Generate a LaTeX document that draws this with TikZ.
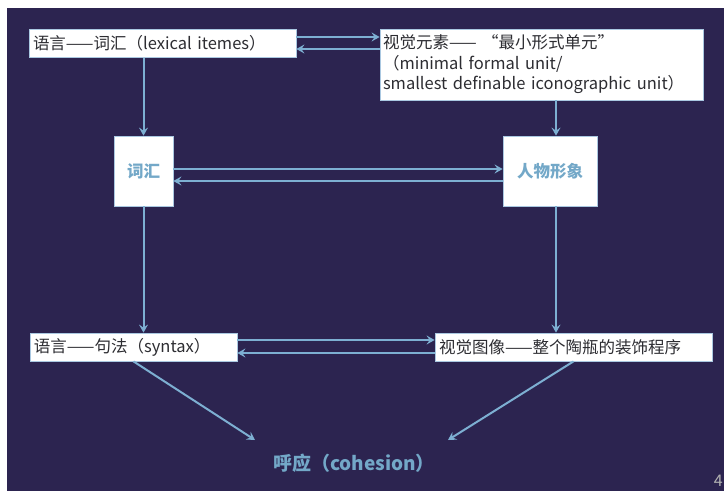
\documentclass[tikz,border=0pt]{standalone}
\usepackage{fontspec}
\setmainfont{Noto Sans CJK SC}
\usetikzlibrary{arrows.meta}
\definecolor{bg}{RGB}{44,36,80}
\definecolor{arrc}{RGB}{125,175,210}
\definecolor{txt}{RGB}{45,45,50}
\definecolor{lbl}{RGB}{115,168,200}
\definecolor{edge}{RGB}{170,200,225}
\begin{document}
\begin{tikzpicture}[x=1pt,y=-1pt,
  box/.style={draw=edge, line width=0.8pt, fill=white, inner sep=0pt,
    font=\fontsize{16.5}{20.5}\selectfont, text=txt},
  midbox/.style={draw=edge, line width=0.8pt, fill=white, inner sep=0pt,
    font=\fontsize{16.5}{16.5}\selectfont\bfseries, text=lbl},
  arr/.style={draw=arrc, line width=2pt, -{Stealth[length=8pt,width=9pt,inset=3pt]}}]
\fill[white] (0,0) rectangle (724,491);
\fill[bg] (7,8) rectangle (724,491);
\useasboundingbox (0,0) rectangle (724,491);

\node[box, minimum width=267pt, minimum height=28pt, text width=259pt, align=left] (A) at (162.5,43.5) {语言——词汇（lexical itemes）};
\node[box, minimum width=323pt, minimum height=71pt, text width=317pt, align=left] (B) at (541.5,64.5) {视觉元素—— “最小形式单元”\\（minimal formal unit/\\smallest definable iconographic unit）};
\node[midbox, minimum width=59pt, minimum height=70pt] (V) at (143.5,171) {词汇};
\node[midbox, minimum width=94pt, minimum height=70pt] (P) at (550,171) {人物形象};
\node[box, minimum width=207pt, minimum height=28pt, text width=199pt, align=left] (S) at (133.5,347) {语言——句法（syntax）};
\node[box, minimum width=277pt, minimum height=28pt, text width=269pt, align=left] (T) at (573.5,347) {视觉图像——整个陶瓶的装饰程序};
\node[font=\fontsize{19}{19}\selectfont\bfseries, text=lbl] (C) at (354,463) {呼应（cohesion）};
\node[font=\fontsize{16}{16}\selectfont, text=gray!60!white, anchor=east, inner sep=1pt] (N) at (724,481) {4};

\coordinate (px) at (556,171);
\coordinate (c1) at (255,440);
\coordinate (c2) at (448,440);

% top pair
\draw[arr] ([yshift=6.5pt]A.east) -- ([yshift=6.5pt]A.east -| B.west);
\draw[arr] ([yshift=-5.5pt]A.east -| B.west) -- ([yshift=-5.5pt]A.east);
% verticals
\draw[arr] (A.south -| V.north) -- (V.north);
\draw[arr] (B.south -| px) -- (P.north -| px);
\draw[arr] (V.south) -- (V.south |- S.north);
\draw[arr] (P.south -| px) -- (T.north -| px);
% middle pair
\draw[arr] ([yshift=2pt]V.east) -- ([yshift=2pt]V.east -| P.west);
\draw[arr] ([yshift=-10pt]V.east -| P.west) -- ([yshift=-10pt]V.east);
% bottom pair
\draw[arr] ([yshift=7pt]S.east) -- ([yshift=7pt]S.east -| T.west);
\draw[arr] ([yshift=-6pt]S.east -| T.west) -- ([yshift=-6pt]S.east);
% to cohesion
\draw[arr] (S.south) -- (c1);
\draw[arr] (T.south) -- (c2);
\end{tikzpicture}
\end{document}
